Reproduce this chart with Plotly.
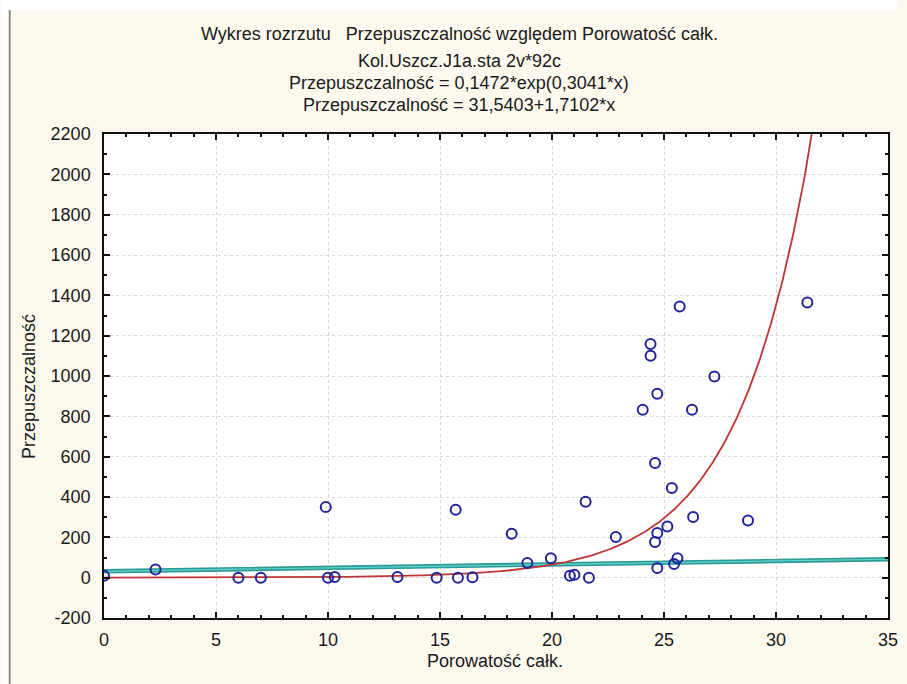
import numpy as np
import plotly.graph_objects as go

# Porowatość całk. (%) and Przepuszczalność (mD) for each sample
porowatosc = [0.0, 2.3, 6.0, 7.0, 9.9, 10.0, 10.3, 13.1, 14.85, 15.7, 15.8, 16.45,
              18.2, 18.9, 19.95, 20.8, 21.0, 21.5, 21.65, 22.85, 24.05, 24.4, 24.4,
              24.6, 24.6, 24.7, 24.7, 24.7, 25.15, 25.35, 25.45, 25.6, 25.7, 26.25,
              26.3, 27.25, 28.75, 31.4]
przepuszczalnosc = [10, 40, 0, 0, 350, 0, 3, 3, 0, 337, 0, 2,
                    218, 73, 96, 10, 15, 377, 0, 202, 833, 1159, 1100,
                    569, 177, 912, 221, 48, 254, 445, 68, 96, 1345, 833,
                    301, 998, 284, 1365]

# Fitted models
exp_a, exp_b = 0.1472, 0.3041
lin_a, lin_b = 31.5403, 1.7102

x_ticks = [0, 5, 10, 15, 20, 25, 30, 35]
y_ticks = [-200, 0, 200, 400, 600, 800, 1000, 1200, 1400, 1600, 1800, 2000, 2200]

title_lines = [
    "Wykres rozrzutu   Przepuszczalność względem Porowatość całk.",
    "Kol.Uszcz.J1a.sta 2v*92c",
    "Przepuszczalność = 0,1472*exp(0,3041*x)",
    "Przepuszczalność = 31,5403+1,7102*x",
]

W, H = 907, 684
L, R, T, B = 104, 898, 134, 618  # plot area in pixels


def px(x):
    return (x - L) / (R - L)


def py(y):
    return (B - y) / (B - T)


xs = np.linspace(0, 35, 701)
fig = go.Figure()
fig.add_trace(go.Scatter(x=xs, y=lin_a + lin_b * xs, mode="lines",
                         line=dict(color="#2f9a94", width=4.5), hoverinfo="skip"))
fig.add_trace(go.Scatter(x=xs, y=lin_a + lin_b * xs, mode="lines",
                         line=dict(color="#5fd6cf", width=1.2), hoverinfo="skip"))
fig.add_trace(go.Scatter(x=xs, y=exp_a * np.exp(exp_b * xs), mode="lines",
                         line=dict(color="#c03535", width=1.8), hoverinfo="skip"))
fig.add_trace(go.Scatter(x=porowatosc, y=przepuszczalnosc, mode="markers",
                         marker=dict(symbol="circle-open", size=10, color="#23239a",
                                     line=dict(width=2, color="#23239a"))))

font = dict(family="Arial, Liberation Sans, sans-serif", size=18, color="#1a1a1a")

axis_common = dict(
    showline=True, linecolor="#111", linewidth=1.5, mirror="allticks",
    ticks="inside", ticklen=6, tickwidth=1.5, tickcolor="#111",
    showgrid=True, gridcolor="#d6d6d6", griddash="dot", gridwidth=1,
    zeroline=False, tickfont=font,
)
fig.update_xaxes(range=[0, 35], tickvals=x_ticks, ticktext=[str(v) for v in x_ticks],
                 minor=dict(dtick=1, ticks="inside", ticklen=3, tickcolor="#111", showgrid=False),
                 ticklabelstandoff=5, **axis_common)
fig.update_yaxes(range=[-200, 2200], tickvals=y_ticks, ticktext=[str(v) for v in y_ticks],
                 minor=dict(dtick=100, ticks="inside", ticklen=3, tickcolor="#111", showgrid=False),
                 ticklabelstandoff=8, **axis_common)

annotations = []
for txt, yy in zip(title_lines, [34, 61, 83, 105]):
    annotations.append(dict(text=txt, x=px(464), y=py(yy), xref="paper", yref="paper",
                            xanchor="center", yanchor="middle", showarrow=False, font=font))
annotations.append(dict(text="Porowatość całk.", x=px(500), y=py(661), xref="paper", yref="paper",
                        xanchor="center", yanchor="middle", showarrow=False, font=font))
annotations.append(dict(text="Przepuszczalność", x=px(28), y=py(386), xref="paper", yref="paper",
                        xanchor="center", yanchor="middle", showarrow=False, textangle=-90, font=font))

shapes = [
    # white strip along the top and left of the window
    dict(type="rect", xref="paper", yref="paper", x0=px(0), x1=px(W), y0=py(10), y1=py(0),
         fillcolor="white", line=dict(width=0), layer="below"),
    dict(type="rect", xref="paper", yref="paper", x0=px(0), x1=px(8), y0=py(H), y1=py(0),
         fillcolor="white", line=dict(width=0), layer="below"),
    dict(type="line", xref="paper", yref="paper", x0=px(8.5), x1=px(8.5), y0=py(H), y1=py(10),
         line=dict(color="#8f8a7c", width=2), layer="below"),
]

fig.update_layout(
    width=W, height=H,
    margin=dict(l=L, r=W - R, t=T, b=H - B),
    paper_bgcolor="#fdf9ee", plot_bgcolor="white",
    showlegend=False, font=font,
    annotations=annotations, shapes=shapes,
)
fig.write_html("out.html")
